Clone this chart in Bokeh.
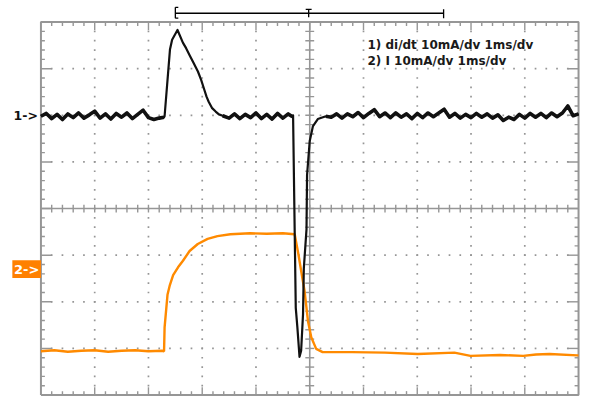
import numpy as np
from bokeh.plotting import figure
from bokeh.models import Range1d
from bokeh.core.properties import value
from bokeh.embed import file_html
from bokeh.resources import INLINE

# ---------------- data (time in ms = divisions, amplitude in divisions) ----------------
ch1_t = [0.0, 0.1, 0.2, 0.3, 0.4, 0.5, 0.6, 0.7, 0.8, 0.9, 1.0, 1.1, 1.2, 1.3, 1.4, 1.5,
         1.6, 1.7, 1.8, 1.9, 2.0, 2.1, 2.2, 2.29,
         2.30, 2.40, 2.44, 2.54, 2.64, 2.70, 2.77, 2.84, 2.92, 2.98, 3.03, 3.08, 3.12, 3.18,
         3.25, 3.31, 3.38,
         3.5, 3.6, 3.7, 3.8, 3.9, 4.0, 4.1, 4.2, 4.3, 4.4, 4.5, 4.6, 4.68,
         4.69, 4.74, 4.77, 4.81, 4.84, 4.875, 4.89, 4.94, 4.95, 5.00, 5.06, 5.15, 5.30,
         5.4, 5.5, 5.6, 5.7, 5.8, 5.9, 6.0, 6.1, 6.2, 6.3, 6.4, 6.5, 6.6, 6.7, 6.8, 6.9,
         7.0, 7.1, 7.2, 7.3, 7.4, 7.5, 7.6, 7.7, 7.8, 7.9, 8.0, 8.1, 8.2, 8.3, 8.4, 8.5,
         8.6, 8.7, 8.8, 8.9, 9.0, 9.1, 9.2, 9.3, 9.4, 9.5, 9.6, 9.7, 9.8, 9.9, 10.0]
ch1_v = [1.98, 2.04, 1.93, 2.02, 1.91, 2.03, 1.95, 2.05, 1.94, 2.01, 2.09, 1.94, 2.03, 1.92, 2.04, 1.96,
         2.05, 1.93, 2.02, 2.11, 1.95, 1.91, 1.94, 1.96,
         1.98, 3.41, 3.62, 3.83, 3.56, 3.44, 3.28, 3.12, 2.94, 2.76, 2.58, 2.40, 2.29, 2.16,
         2.08, 2.02, 1.99,
         1.94, 2.03, 1.93, 2.02, 1.95, 2.05, 1.93, 2.02, 1.92, 2.04, 1.94, 2.03, 1.97,
         2.00, -2.13, -2.55, -3.18, -3.05, -2.27, -1.28, -0.44, 0.72, 1.45, 1.77, 1.92, 1.98,
         1.96, 2.03, 1.94, 2.03, 1.97, 2.06, 1.95, 2.04, 2.12, 1.97, 2.05, 1.95, 2.05, 1.96, 2.03, 1.93,
         2.04, 1.95, 2.05, 1.97, 2.05, 2.13, 1.96, 2.04, 1.94, 2.02, 1.95, 2.04, 1.96, 2.03, 1.94, 2.01,
         1.89, 1.96, 1.91, 2.02, 1.94, 2.04, 1.96, 2.04, 1.95, 2.05, 1.97, 2.05, 2.20, 1.99, 2.03]

ch2_t = [0.0, 0.25, 0.5, 0.75, 1.0, 1.25, 1.5, 1.75, 2.0, 2.25, 2.29,
         2.30, 2.354, 2.398, 2.459, 2.55, 2.642, 2.765, 2.917, 3.10, 3.284, 3.523, 3.89, 4.2, 4.5, 4.72,
         4.783, 4.844, 4.905, 4.967, 5.028, 5.12, 5.24, 5.79, 6.40, 7.01, 7.69, 7.99, 8.54, 8.97,
         9.21, 9.46, 9.98, 10.0]
ch2_v = [-3.06, -3.04, -3.07, -3.05, -3.04, -3.07, -3.05, -3.04, -3.06, -3.05, -3.06,
         -2.55, -1.85, -1.64, -1.43, -1.26, -1.12, -0.91, -0.76, -0.65, -0.59, -0.55, -0.53, -0.54, -0.53, -0.55,
         -0.94, -1.36, -1.78, -2.41, -2.76, -3.01, -3.08, -3.08, -3.09, -3.12, -3.09, -3.16, -3.14, -3.16,
         -3.13, -3.12, -3.15, -3.15]

legend_lines = ["1) di/dt  10mA/dv 1ms/dv", "2) I  10mA/dv 1ms/dv"]
ch1_marker = "1->"
ch2_marker = "2->"
trig_start, trig_pos, trig_end = 2.5, 4.98, 7.49

# ---------------- geometry ----------------
W, H = 581, 397
PXX = 1 / 54.5      # data units per reference pixel, x
PXY = 1 / 47.5625   # data units per reference pixel, y
CY = 212.25         # reference pixel row of the centre line
x0 = -41 * PXX
x1 = (589 - 41) * PXX
y1 = CY * PXY
y0 = (CY - 405) * PXY

p = figure(width=W, height=H, output_backend="svg", toolbar_location=None,
           x_range=Range1d(x0, x1), y_range=Range1d(y0, y1),
           x_axis_location=None, y_axis_location=None, min_border=0)
p.outline_line_color = None
p.grid.visible = False
p.background_fill_color = "white"
p.border_fill_color = "white"

GRID = "#969696"

# dotted major lines
dx, dy = [], []
for k in range(1, 10):
    if k == 5:
        continue
    for j in range(1, 40):
        dx.append(k); dy.append(-4 + 0.2 * j)
for k in range(-3, 4):
    if k == 0:
        continue
    for i in range(1, 50):
        dx.append(0.2 * i); dy.append(k)
p.scatter(dx, dy, marker="square", size=1.7, fill_color=GRID, line_color=None)

# border
p.line([0, 10, 10, 0, 0], [-4, -4, 4, 4, -4], line_color=GRID, line_width=2)
# centre lines
p.segment([5, 0], [-4, 0], [5, 10], [4, 0], line_color=GRID, line_width=1.6)

# ticks
sx0, sy0, sx1, sy1 = [], [], [], []
for i in range(1, 50):
    x = 0.2 * i
    major = abs(x - round(x)) < 1e-6
    L = (8 if major else 4) * PXY
    sx0 += [x, x]; sy0 += [4, -4]; sx1 += [x, x]; sy1 += [4 - L, -4 + L]
    c = 4 * PXY
    sx0.append(x); sy0.append(-c); sx1.append(x); sy1.append(c)
for j in range(1, 40):
    y = -4 + 0.2 * j
    major = abs(y - round(y)) < 1e-6
    L = (11 if major else 4) * PXX
    sx0 += [0, 10]; sy0 += [y, y]; sx1 += [L, 10 - L]; sy1 += [y, y]
    c = 4.5 * PXX
    sx0.append(5 - c); sy0.append(y); sx1.append(5 + c); sy1.append(y)
p.segment(sx0, sy0, sx1, sy1, line_color=GRID, line_width=1.4)

# traces
p.line(ch2_t, ch2_v, line_color="#ff8a00", line_width=2.4)
p.line(ch1_t, ch1_v, line_color="#111111", line_width=2.2, line_join="round")
# noisy flat stretches of channel 1 look thicker on the scope
t1 = np.array(ch1_t); v1 = np.array(ch1_v)
for lo, hi in [(0.0, 2.29), (3.38, 4.68), (5.30, 10.0)]:
    m = (t1 >= lo) & (t1 <= hi)
    p.line(t1[m], v1[m], line_color="#111111", line_width=3.6, line_join="round")

# trigger bracket
ty = (CY - 13) * PXY
p.segment([trig_start], [ty], [trig_end], [ty], line_color="black", line_width=1.3)
p.segment([trig_start, trig_end, trig_pos],
          [ty - 5 * PXY, ty - 5 * PXY, ty - 4 * PXY],
          [trig_start, trig_end, trig_pos],
          [ty + 6 * PXY, ty + 4 * PXY, ty + 4 * PXY], line_color="black", line_width=1.3)
p.segment([trig_start, trig_start, trig_pos - 3 * PXX],
          [ty + 6 * PXY, ty - 5 * PXY, ty + 4 * PXY],
          [trig_start + 3 * PXX, trig_start + 3 * PXX, trig_pos + 3 * PXX],
          [ty + 6 * PXY, ty - 5 * PXY, ty + 4 * PXY], line_color="black", line_width=1.3)

# legend text
p.text([6.073, 6.073], [(CY - 45) * PXY, (CY - 61.5) * PXY], text=legend_lines,
       text_font=value("DejaVu Sans"), text_font_style="bold", text_font_size="12px",
       text_color="#1a1a1a", text_baseline="middle", text_align="left")

# channel markers
p.text([-3 * PXX], [(CY - 117) * PXY], text=[ch1_marker], text_font=value("DejaVu Sans"),
       text_font_style="bold", text_font_size="12.5px", text_color="#111111",
       text_baseline="middle", text_align="right")
p.quad(left=[-29 * PXX], right=[0], top=[(CY - 265) * PXY], bottom=[(CY - 283) * PXY],
       fill_color="#ff8000", line_color=None)
p.text([-14.5 * PXX], [(CY - 274) * PXY], text=[ch2_marker], text_font=value("DejaVu Sans"),
       text_font_style="bold", text_font_size="13px", text_color="white",
       text_baseline="middle", text_align="center")

open("out.html", "w").write(file_html(p, INLINE))
